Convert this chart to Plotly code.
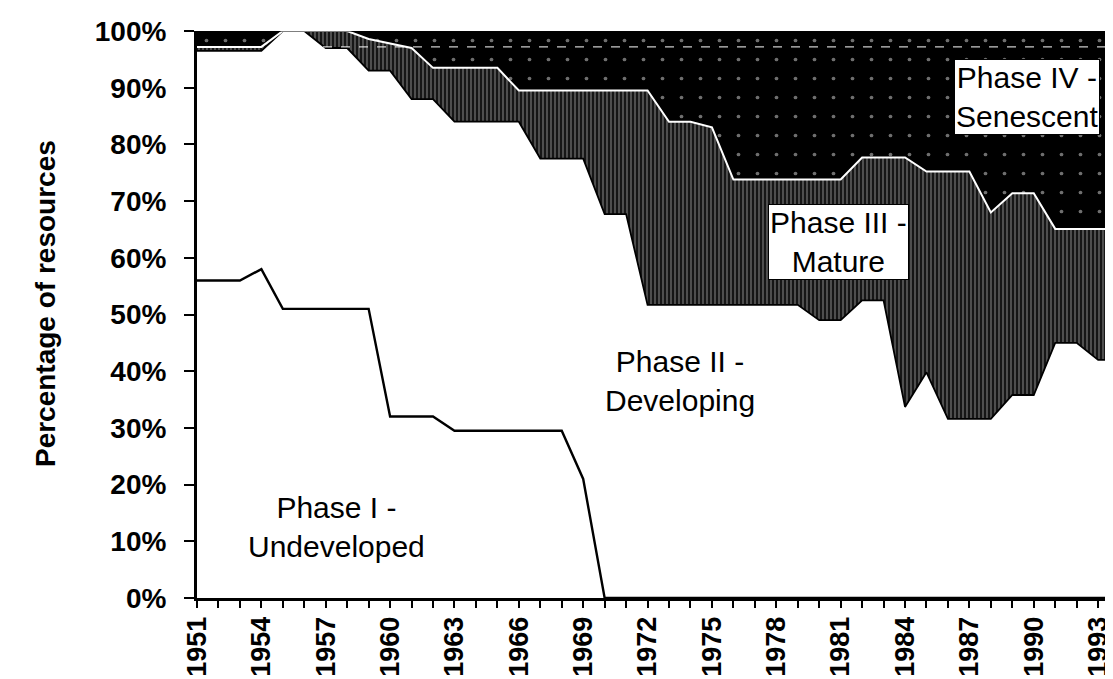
import plotly.graph_objects as go

years = list(range(1951, 1995))

# share of resources in each phase (%), per year
phase1 = [56, 56, 56, 58, 51, 51, 51, 51, 51, 32, 32, 32, 29.5, 29.5, 29.5, 29.5,
          29.5, 29.5, 21, 0, 0, 0, 0, 0, 0, 0, 0, 0, 0, 0, 0, 0, 0, 0, 0, 0, 0, 0,
          0, 0, 0, 0, 0, 0]
phase2 = [40.5, 40.5, 40.5, 38.5, 49, 49, 46, 46, 42, 61, 56, 56, 54.5, 54.5, 54.5,
          54.5, 48, 48, 56.5, 67.7, 67.7, 51.7, 51.7, 51.7, 51.7, 51.7, 51.7, 51.7,
          51.7, 49, 49, 52.5, 52.5, 33.7, 39.8, 31.6, 31.6, 31.6, 35.8, 35.8, 45, 45,
          42, 42]
phase3 = [0.7, 0.7, 0.7, 0.7, 0, 0, 3, 3, 5.6, 4.8, 9, 5.5, 9.5, 9.5, 9.5, 5.5, 12,
          12, 12, 21.8, 21.8, 37.8, 32.3, 32.3, 31.3, 22.1, 22.1, 22.1, 22.1, 24.8,
          24.8, 25.2, 25.2, 44, 35.4, 43.6, 43.6, 36.4, 35.6, 35.6, 20.1, 20.1, 23.1,
          23.1]
phase4 = [2.8, 2.8, 2.8, 2.8, 0, 0, 0, 0, 1.4, 2.2, 3, 6.5, 6.5, 6.5, 6.5, 10.5,
          10.5, 10.5, 10.5, 10.5, 10.5, 10.5, 16, 16, 17, 26.2, 26.2, 26.2, 26.2,
          26.2, 26.2, 22.3, 22.3, 22.3, 24.8, 24.8, 24.8, 32, 28.6, 28.6, 34.9, 34.9,
          34.9, 34.9]

# faint white dashed streak visible across the top band
streak_level = [97.2] * len(years)

tick_years = [str(y) if (y - 1951) % 3 == 0 else "" for y in years]
y_ticks = list(range(0, 101, 10))
y_labels = [f"{v}%" for v in y_ticks]

FONT = "Liberation Sans, Arial, sans-serif"

fig = go.Figure()
fig.add_trace(go.Scatter(
    x=years, y=phase1, stackgroup="s", mode="lines",
    line=dict(color="black", width=2.4), fillcolor="white", name="Phase I"))
fig.add_trace(go.Scatter(
    x=years, y=phase2, stackgroup="s", mode="lines",
    line=dict(color="black", width=1.8), fillcolor="white", name="Phase II"))
fig.add_trace(go.Scatter(
    x=years, y=phase3, stackgroup="s", mode="lines",
    line=dict(color="white", width=2),
    fillpattern=dict(shape="|", bgcolor="#161616", fgcolor="#b8b8b8",
                     size=4, solidity=0.35),
    name="Phase III"))
fig.add_trace(go.Scatter(
    x=years, y=phase4, stackgroup="s", mode="lines",
    line=dict(color="black", width=1),
    fillpattern=dict(shape=".", bgcolor="black", fgcolor="#dddddd",
                     size=19, solidity=0.03),
    name="Phase IV"))
fig.add_trace(go.Scatter(
    x=years, y=streak_level, mode="lines",
    line=dict(color="white", width=1.2, dash="dash"), opacity=0.8,
    hoverinfo="skip", name=""))


def label(text, x, y, box=False, size=30):
    fig.add_annotation(
        x=x, y=y, xref="x", yref="y", text=text, showarrow=False,
        font=dict(family=FONT, size=size, color="black"),
        bgcolor="white" if box else "rgba(0,0,0,0)",
        bordercolor="black" if box else "rgba(0,0,0,0)",
        borderwidth=1 if box else 0, borderpad=1, align="center")


label("Phase I -<br>Undeveloped", 1957.5, 12.6)
label("Phase II -<br>Developing", 1973.5, 38.2)
label("Phase III -<br>Mature", 1980.9, 62.8, box=True)
label("Phase IV -<br>Senescent", 1989.7, 88.3, box=True)

fig.add_annotation(
    x=-0.1856, y=0.52, xref="paper", yref="paper", text="<b>Percentage of resources</b>",
    textangle=-90, showarrow=False,
    font=dict(family=FONT, size=28, color="black"))

fig.update_layout(
    width=1113, height=679,
    margin=dict(l=189, r=8, t=17, b=89),
    paper_bgcolor="white", plot_bgcolor="white",
    showlegend=False,
    font=dict(family=FONT, color="black"),
    xaxis=dict(
        range=[1951, 1993.6], tickmode="array", tickvals=years,
        ticktext=[f"<b>{t}</b>" if t else "" for t in tick_years],
        tickangle=-90, ticks="outside", ticklen=7, tickwidth=2, tickcolor="black",
        showline=True, linecolor="black", linewidth=3, showgrid=False,
        zeroline=False, tickfont=dict(family=FONT, size=27, color="black"),
        ticklabelstandoff=-2),
    yaxis=dict(
        range=[0, 100], tickmode="array", tickvals=y_ticks,
        ticktext=[f"<b>{t}</b>" for t in y_labels], ticks="outside",
        ticklen=10, tickwidth=2, tickcolor="black", showline=True,
        linecolor="black", linewidth=3, showgrid=False, zeroline=False,
        tickfont=dict(family=FONT, size=28, color="black"),
        ticklabelstandoff=12),
)

fig.write_html("out.html")
